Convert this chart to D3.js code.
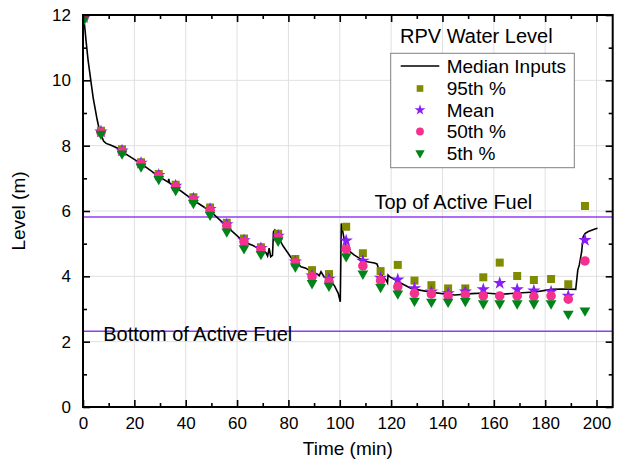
<!DOCTYPE html>
<html><head><meta charset="utf-8">
<script src="https://cdn.jsdelivr.net/npm/d3@7"></script>
<style>body{margin:0;background:#fff}svg{display:block}text{font-family:"Liberation Sans",Arial,sans-serif}</style>
</head><body>
<svg id="c" width="619" height="465"></svg>
<script>
// marker times (min)
const times = [0.3, 7.0, 15.2, 22.6, 29.5, 36.1, 43.0, 49.5, 56.0, 62.7, 69.3, 76.0, 82.7, 89.2, 95.8, 102.5, 109.0, 115.9, 122.6, 129.1, 135.7, 142.2, 148.9, 155.9, 162.3, 169.1, 175.6, 182.3, 189.0, 195.5];
const p95  = [11.95, 8.46, 7.89, 7.49, 7.13, 6.80, 6.42, 6.11, 5.64, 5.16, 4.89, 5.30, 4.53, 4.19, 4.07, 5.52, 4.71, 4.16, 4.35, 3.87, 3.73, 3.63, 3.63, 3.97, 4.42, 4.01, 3.89, 3.92, 3.76, 6.15];
const mean = [11.92, 8.43, 7.85, 7.47, 7.10, 6.77, 6.38, 6.06, 5.59, 5.10, 4.86, 5.24, 4.45, 4.02, 3.92, 5.09, 4.47, 3.95, 3.90, 3.63, 3.53, 3.48, 3.53, 3.60, 3.79, 3.60, 3.56, 3.53, 3.40, 5.11];
const p50  = [11.90, 8.40, 7.82, 7.44, 7.07, 6.74, 6.34, 6.02, 5.54, 5.06, 4.83, 5.19, 4.42, 3.99, 3.84, 4.83, 4.32, 3.87, 3.68, 3.48, 3.46, 3.40, 3.43, 3.40, 3.40, 3.40, 3.38, 3.40, 3.30, 4.47];
const p5   = [11.85, 8.36, 7.76, 7.36, 6.98, 6.64, 6.24, 5.88, 5.37, 4.86, 4.68, 5.09, 4.30, 3.79, 3.71, 4.61, 4.08, 3.67, 3.47, 3.25, 3.22, 3.22, 3.24, 3.17, 3.17, 3.17, 3.17, 3.17, 2.85, 2.95];
// median inputs curve
const medT = [0,0.6,1.2,2,2.7,3.2,4,4.8,5.5,6.2,7,8,9,10.7,13.3,15.5,22.6,29.5,33.2,33.4,33.7,36.1,43,49.5,56,62.7,66,69.3,71.3,71.9,72.5,73.1,73.8,74.2,74.7,76,78,81,82.7,84.9,86.8,89.2,91,92,92.7,93.9,96.4,98,99.4,100.2,100.6,101.8,103,105.7,109.6,113.5,114.5,115.4,116.7,118,118.6,118.8,119.4,121,123.9,127.8,131.7,136.9,140.9,144.8,151.3,156.5,163,169.5,176,180,182.5,186.4,191.9,192.7,193.3,194.2,194.8,195.5,196.8,199.4,200.4];
const medV = [12,11.7,11.2,10.6,10.2,9.9,9.45,9.1,8.8,8.55,8.35,8.14,8.07,8.02,7.93,7.8,7.45,7.06,6.88,6.98,6.86,6.73,6.33,6.0,5.53,5.05,4.95,4.82,4.72,4.62,4.86,4.6,4.64,5.37,5.42,5.2,4.92,4.58,4.45,4.29,4.25,4.12,4.08,4.02,4.14,3.98,3.88,3.7,3.48,3.22,5.62,5.1,4.82,4.65,4.46,4.41,4.38,4.17,3.99,3.89,3.8,4.04,3.99,3.92,3.79,3.63,3.57,3.5,3.46,3.43,3.47,3.49,3.45,3.49,3.52,3.57,3.6,3.61,3.6,4.19,4.35,4.75,5.21,5.31,5.37,5.45,5.47];
const refLevels = [5.82, 2.32];
const refLabels = ["Top of Active Fuel", "Bottom of Active Fuel"];
const xTicks = [0,20,40,60,80,100,120,140,160,180,200];
const yTicks = [0,2,4,6,8,10,12];
const legendLabels = ["Median Inputs","95th %","Mean","50th %","5th %"];

const svg = d3.select("#c");
const L = 83, R = 612.7, T = 15, B = 407;
const x = d3.scaleLinear().domain([0, 206.3]).range([L, R]);
const y = d3.scaleLinear().domain([0, 12]).range([B, T]);

const cSq = "#7f8c00", cStar = "#8a1cf5", cCirc = "#f5308f", cTri = "#00841a", cRef = "#8f3ef0";

svg.append("clipPath").attr("id","clip").append("rect").attr("x",L).attr("y",T).attr("width",R-L).attr("height",B-T);

// grid
const g = svg.append("g");
g.selectAll(".gx").data(xTicks.slice(1)).join("line").attr("x1",d=>x(d)).attr("x2",d=>x(d)).attr("y1",T).attr("y2",B).attr("stroke","#e0e0e0").attr("stroke-width",1);
g.selectAll(".gy").data(yTicks.slice(1)).join("line").attr("y1",d=>y(d)).attr("y2",d=>y(d)).attr("x1",L).attr("x2",R).attr("stroke","#e0e0e0").attr("stroke-width",1);

// reference lines
svg.selectAll(".ref").data(refLevels).join("line").attr("x1",L).attr("x2",R).attr("y1",d=>y(d)).attr("y2",d=>y(d)).attr("stroke",cRef).attr("stroke-width",1.5);
svg.append("text").attr("x",x(113.5)).attr("y",y(refLevels[0])-8).attr("font-size",20).text(refLabels[0]);
svg.append("text").attr("x",x(7.9)).attr("y",y(refLevels[1])+10).attr("font-size",20).text(refLabels[1]);

const plot = svg.append("g").attr("clip-path","url(#clip)");
// median line
plot.append("path").datum(medT.map((t,i)=>[t,medV[i]]))
  .attr("d", d3.line().x(d=>x(d[0])).y(d=>y(d[1])))
  .attr("fill","none").attr("stroke","#000").attr("stroke-width",1.6);

function drawSeries(vals, type, size, color, rot){
  const sym = d3.symbol().type(type).size(size);
  plot.append("g").selectAll("path").data(times.map((t,i)=>[t,vals[i]])).join("path")
    .attr("d", sym)
    .attr("transform", d=>`translate(${x(d[0])},${y(d[1])})${rot?" rotate(180)":""}`)
    .attr("fill", color);
}
drawSeries(p95, d3.symbolSquare, 64, cSq, false);
drawSeries(mean, d3.symbolStar, 55, cStar, false);
drawSeries(p50, d3.symbolCircle, 72, cCirc, false);
drawSeries(p5, d3.symbolTriangle, 50, cTri, true);

// axes
const ax = svg.append("g");
const xb = d3.axisBottom(x).tickValues(xTicks).tickSizeInner(-7).tickSizeOuter(0).tickPadding(10);
const xbm = d3.axisBottom(x).tickValues(d3.range(10,206,20)).tickSizeInner(-4).tickSizeOuter(0).tickFormat("");
const xt = d3.axisTop(x).tickValues(xTicks).tickSizeInner(-7).tickSizeOuter(0).tickFormat("");
const xtm = d3.axisTop(x).tickValues(d3.range(10,206,20)).tickSizeInner(-4).tickSizeOuter(0).tickFormat("");
const yl = d3.axisLeft(y).tickValues(yTicks).tickSizeInner(-7).tickSizeOuter(0).tickPadding(12);
const ylm = d3.axisLeft(y).tickValues(d3.range(1,12,2)).tickSizeInner(-4).tickSizeOuter(0).tickFormat("");
const yr = d3.axisRight(y).tickValues(yTicks).tickSizeInner(-7).tickSizeOuter(0).tickFormat("");
const yrm = d3.axisRight(y).tickValues(d3.range(1,12,2)).tickSizeInner(-4).tickSizeOuter(0).tickFormat("");
[[xb,`0,${B}`],[xbm,`0,${B}`],[xt,`0,${T}`],[xtm,`0,${T}`],[yl,`${L},0`],[ylm,`${L},0`],[yr,`${R},0`],[yrm,`${R},0`]].forEach(([a,tr])=>{
  const s = ax.append("g").attr("transform",`translate(${tr})`).call(a);
  s.selectAll("line").attr("stroke","#000").attr("stroke-width",1.6);
  s.select(".domain").remove();
  s.selectAll("text").attr("font-size",17).attr("fill","#000").attr("font-family","Liberation Sans, Arial, sans-serif");
});
ax.append("rect").attr("x",L).attr("y",T).attr("width",R-L).attr("height",B-T).attr("fill","none").attr("stroke","#000").attr("stroke-width",2);

// axis titles
svg.append("text").attr("x",(L+R)/2).attr("y",455).attr("text-anchor","middle").attr("font-size",19).text("Time (min)");
svg.append("text").attr("transform",`translate(25,${(T+B)/2}) rotate(-90)`).attr("text-anchor","middle").attr("font-size",19).text("Level (m)");

// legend
svg.append("text").attr("x",400).attr("y",43).attr("font-size",20).text("RPV Water Level");
const lg = svg.append("g");
lg.append("rect").attr("x",390.7).attr("y",53.3).attr("width",183.6).attr("height",114.4).attr("fill","#fff").attr("stroke","#808080").attr("stroke-width",1);
const rowY = [66, 88.5, 110, 131.5, 153];
lg.append("line").attr("x1",400.7).attr("x2",439.3).attr("y1",rowY[0]).attr("y2",rowY[0]).attr("stroke","#000").attr("stroke-width",1.6);
const legSyms = [null,[d3.symbolSquare,44,cSq,false],[d3.symbolStar,36,cStar,false],[d3.symbolCircle,48,cCirc,false],[d3.symbolTriangle,38,cTri,true]];
legSyms.forEach((s,i)=>{
  if(!s) return;
  lg.append("path").attr("d",d3.symbol().type(s[0]).size(s[1])).attr("fill",s[2])
    .attr("transform",`translate(420,${rowY[i]})${s[3]?" rotate(180)":""}`);
});
legendLabels.forEach((t,i)=>{
  lg.append("text").attr("x",446.7).attr("y",rowY[i]+6.5).attr("font-size",19).text(t);
});
</script>
</body></html>
